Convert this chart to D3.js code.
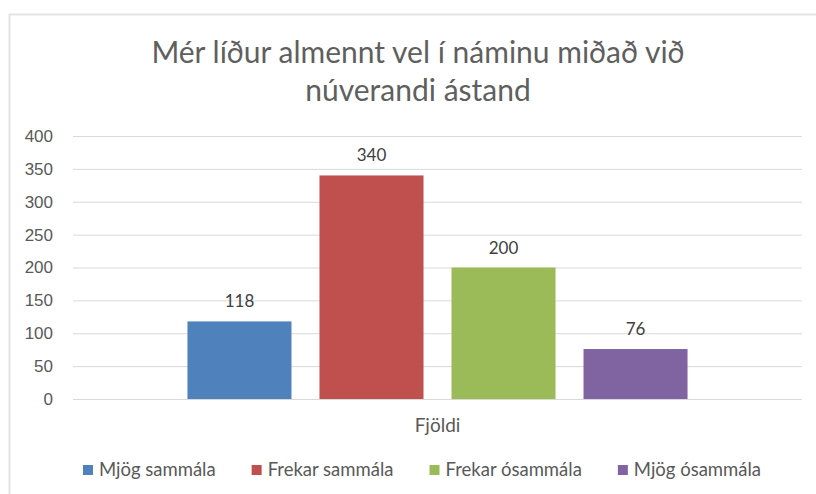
<!DOCTYPE html>
<html>
<head>
<meta charset="utf-8">
<script src="https://cdn.jsdelivr.net/npm/d3@7"></script>
<style>
  body { margin: 0; background: #fff; }
  svg { display: block; font-family: Lato, "Open Sans", sans-serif; }
  .grid line { stroke: #d9d9d9; stroke-width: 1; }
  .grid .domain { display: none; }
  .grid text { fill: #595959; font-size: 17px; }
  .value { fill: #404040; font-size: 17px; }
  .title { fill: #5f5f5f; font-size: 30px; }
  .cat { fill: #595959; font-size: 19px; }
  .legend text { fill: #595959; font-size: 18.5px; }
</style>
</head>
<body>
<div id="chart"></div>
<script>
// Data
var titleLines = ["Mér líður almennt vel í náminu miðað við", "núverandi ástand"];
var categories = ["Fjöldi"];
var seriesNames = ["Mjög sammála", "Frekar sammála", "Frekar ósammála", "Mjög ósammála"];
var seriesValues = [118, 340, 200, 76];
var seriesColors = ["#4f81bd", "#c0504d", "#9bbb59", "#8064a2"];
var yTicks = [0, 50, 100, 150, 200, 250, 300, 350, 400];

var width = 816, height = 494;
var plot = { left: 73, right: 802, top: 136, bottom: 399 };
var centerX = 420;

var svg = d3.select("#chart")
  .append("svg")
  .attr("width", width)
  .attr("height", height);

// chart area border (runs off the right and bottom)
svg.append("rect")
  .attr("x", 9.5)
  .attr("y", 14.5)
  .attr("width", 840)
  .attr("height", 520)
  .attr("fill", "none")
  .attr("stroke", "#e3e3e3")
  .attr("stroke-width", 2);

// Title
svg.append("text")
  .attr("class", "title")
  .attr("text-anchor", "middle")
  .selectAll("tspan")
  .data(titleLines)
  .enter()
  .append("tspan")
  .attr("x", centerX - 2)
  .attr("y", (d, i) => 63 + i * 38)
  .text(d => d);

// Scales
var yScale = d3.scaleLinear()
  .domain([0, 400])
  .range([plot.bottom, plot.top]);

var x0 = d3.scaleBand()
  .domain(categories)
  .range([plot.left, plot.right]);

var x1 = d3.scaleBand()
  .domain(seriesNames)
  .range([0, x0.bandwidth()])
  .paddingInner(0.212)
  .paddingOuter(0.867);

// Grid + y labels
var yAxis = d3.axisLeft(yScale)
  .tickValues(yTicks)
  .tickSize(-(plot.right - plot.left))
  .tickPadding(20);

svg.append("g")
  .attr("class", "grid")
  .attr("transform", `translate(${plot.left},0)`)
  .call(yAxis);

// Bars
var rows = seriesNames.map((name, i) => ({
  name: name,
  value: seriesValues[i],
  color: seriesColors[i],
  cat: categories[0]
}));

var bars = svg.append("g").attr("class", "bars");

bars.selectAll("rect")
  .data(rows)
  .enter()
  .append("rect")
  .attr("x", d => x0(d.cat) + x1(d.name))
  .attr("y", d => yScale(d.value))
  .attr("width", x1.bandwidth())
  .attr("height", d => yScale(0) - yScale(d.value))
  .attr("fill", d => d.color);

// Value labels
bars.selectAll("text")
  .data(rows)
  .enter()
  .append("text")
  .attr("class", "value")
  .attr("text-anchor", "middle")
  .attr("x", d => x0(d.cat) + x1(d.name) + x1.bandwidth() / 2)
  .attr("y", d => yScale(d.value) - 14)
  .text(d => d.value);

// Category label
svg.append("text")
  .attr("class", "cat")
  .attr("text-anchor", "middle")
  .attr("x", x0(categories[0]) + x0.bandwidth() / 2)
  .attr("y", 432)
  .text(categories[0]);

// Legend, centered
var legend = svg.append("g").attr("class", "legend");
var items = legend.selectAll("g")
  .data(rows)
  .enter()
  .append("g");

items.append("rect")
  .attr("width", 10)
  .attr("height", 10)
  .attr("y", 465)
  .attr("fill", d => d.color);

items.append("text")
  .attr("x", 16)
  .attr("y", 476)
  .text(d => d.name);

var widths = [];
items.select("text").each(function() { widths.push(16 + this.getComputedTextLength()); });
var gap = 36;
var total = d3.sum(widths) + gap * (widths.length - 1);
var pos = centerX + 2 - total / 2;
items.attr("transform", (d, i) => {
  var t = `translate(${pos},0)`;
  pos += widths[i] + gap;
  return t;
});
</script>
</body>
</html>
